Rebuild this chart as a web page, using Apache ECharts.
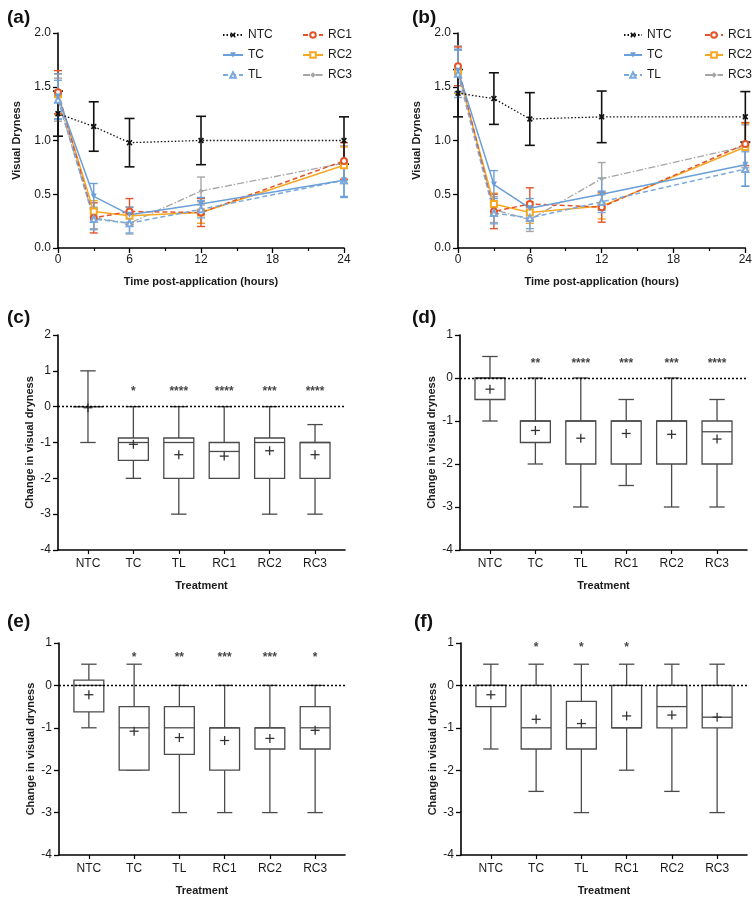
<!DOCTYPE html>
<html><head><meta charset="utf-8">
<script src="https://cdn.jsdelivr.net/npm/echarts@6/dist/echarts.min.js"></script>
<style>html,body{margin:0;padding:0;background:#fff}#c{width:755px;height:897px}</style>
</head><body><div id="c"></div>
<script>
// ---------- data ----------
const times = [0, 3, 6, 12, 24];
const treatments = ['NTC', 'TC', 'TL', 'RC1', 'RC2', 'RC3'];

// panel (a) means and error (±)
const aNTC = [1.25, 1.13, 0.98, 1.00, 1.00];
const aNTCerr = [0.21, 0.23, 0.225, 0.225, 0.22];
const aTC = [1.41, 0.48, 0.31, 0.41, 0.63];
const aTCerr = [0.21, 0.12, 0.07, 0.06, 0.16];
const aTL = [1.38, 0.27, 0.23, 0.36, 0.63];
const aTLerr = [0.18, 0.10, 0.09, 0.08, 0.15];
const aRC1 = [1.45, 0.28, 0.34, 0.33, 0.81];
const aRC1err = [0.20, 0.14, 0.12, 0.13, 0.17];
const aRC2 = [1.43, 0.34, 0.30, 0.33, 0.77];
const aRC2err = [0.19, 0.10, 0.08, 0.10, 0.17];
const aRC3 = [1.38, 0.28, 0.23, 0.53, 0.79];
const aRC3err = [0.20, 0.10, 0.10, 0.13, 0.16];

// panel (b)
const bNTC = [1.44, 1.39, 1.20, 1.22, 1.22];
const bNTCerr = [0.22, 0.24, 0.245, 0.24, 0.235];
const bTC = [1.65, 0.59, 0.37, 0.50, 0.775];
const bTCerr = [0.20, 0.13, 0.09, 0.15, 0.20];
const bTL = [1.62, 0.325, 0.28, 0.43, 0.735];
const bTLerr = [0.22, 0.10, 0.10, 0.10, 0.16];
const bRC1 = [1.69, 0.34, 0.41, 0.38, 0.967];
const bRC1err = [0.18, 0.16, 0.15, 0.14, 0.20];
const bRC2 = [1.64, 0.41, 0.33, 0.39, 0.94];
const bRC2err = [0.20, 0.10, 0.10, 0.12, 0.22];
const bRC3 = [1.66, 0.357, 0.264, 0.645, 0.946];
const bRC3err = [0.22, 0.12, 0.11, 0.15, 0.20];

// box plots: [min, q1, median, q3, max, mean] per treatment
const cBox = [
  [-1, 0, 0, 0, 1, -0.03],
  [-2, -1.5, -1, -0.875, 0, -1.05],
  [-3, -2, -1, -0.875, 0, -1.34],
  [-2, -2, -1.25, -1, 0, -1.38],
  [-3, -2, -1, -0.875, 0, -1.23],
  [-3, -2, -1, -1, -0.5, -1.34]
];
const cSig = ['', '*', '****', '****', '***', '****'];

const dBox = [
  [-1, -0.5, 0, 0, 0.5, -0.26],
  [-2, -1.5, -1, -1, 0, -1.22],
  [-3, -2, -1, -1, 0, -1.40],
  [-2.5, -2, -1, -1, -0.5, -1.29],
  [-3, -2, -1, -1, 0, -1.31],
  [-3, -2, -1.25, -1, -0.5, -1.42]
];
const dSig = ['', '**', '****', '***', '***', '****'];

const eBox = [
  [-1, -0.625, 0, 0.125, 0.5, -0.22],
  [-2, -2, -1, -0.5, 0.5, -1.08],
  [-3, -1.625, -1, -0.5, 0, -1.23],
  [-3, -2, -1, -1, 0, -1.30],
  [-3, -1.5, -1, -1, 0, -1.25],
  [-3, -1.5, -1, -0.5, 0, -1.06]
];
const eSig = ['', '*', '**', '***', '***', '*'];

const fBox = [
  [-1.5, -0.5, 0, 0, 0.5, -0.22],
  [-2.5, -1.5, -1, 0, 0.5, -0.80],
  [-3, -1.5, -1, -0.375, 0.5, -0.90],
  [-2, -1, -1, 0, 0.5, -0.72],
  [-2.5, -1, -0.5, 0, 0.5, -0.70],
  [-3, -1, -0.75, 0, 0.5, -0.75]
];
const fSig = ['', '*', '*', '*', '', ''];

// ---------- styling ----------
const FONT = '"Liberation Sans", Arial, Helvetica, sans-serif';
const TXT = '#1a1a1a';
const COL = { NTC: '#111111', TC: '#6a9fd8', TL: '#7aa9de', RC1: '#e2552b', RC2: '#f7a823', RC3: '#a6a6a6' };
const XPATH = 'path://M2,0L5,3L8,0L10,2L7,5L10,8L8,10L5,7L2,10L0,8L3,5L0,2Z';
const STY = {
  NTC: { line: { type: [1.5, 2], width: 1.3 }, symbol: XPATH, size: 6, rotate: 0 },
  TC: { line: { type: 'solid', width: 1.5 }, symbol: 'triangle', size: 6, rotate: 180 },
  TL: { line: { type: [5, 3], width: 1.5 }, symbol: 'emptyTriangle', size: 6, rotate: 0 },
  RC1: { line: { type: [5, 3], width: 1.5 }, symbol: 'emptyCircle', size: 6, rotate: 0 },
  RC2: { line: { type: 'solid', width: 1.5 }, symbol: 'emptyRect', size: 6, rotate: 0 },
  RC3: { line: { type: [7, 2, 1.5, 2], width: 1.3 }, symbol: 'diamond', size: 5, rotate: 0 }
};

const grids = [
  { left: 58, top: 33, width: 286, height: 215 },
  { left: 458, top: 33, width: 289, height: 215 },
  { left: 58, top: 335, width: 287, height: 215 },
  { left: 460, top: 335, width: 287, height: 215 },
  { left: 59, top: 643, width: 286, height: 214 },
  { left: 461, top: 643, width: 286, height: 214 }
];

const axisLine = { show: true, onZero: false, lineStyle: { color: '#000', width: 1.6 } };
const axisLabel = { color: TXT, fontSize: 12, fontFamily: FONT };
const nameStyle = { color: TXT, fontSize: 11, fontWeight: 'bold', fontFamily: FONT };

const xAxes = [], yAxes = [], series = [];

function addLinePanel(gi, data) {
  xAxes.push({
    gridIndex: gi, type: 'value', min: 0, max: 24, interval: 6,
    axisLine, axisTick: { show: true, length: 5, lineStyle: { color: '#000', width: 1.3 } },
    minorTick: { show: true, splitNumber: 2, length: 3, lineStyle: { color: '#000', width: 1.2 } },
    axisLabel: { ...axisLabel, margin: 6 }, splitLine: { show: false },
    name: 'Time post-application (hours)', nameLocation: 'middle', nameGap: 28, nameTextStyle: nameStyle
  });
  yAxes.push({
    gridIndex: gi, type: 'value', min: 0, max: 2, interval: 0.5,
    axisLine, axisTick: { show: true, length: 5, lineStyle: { color: '#000', width: 1.3 } },
    axisLabel: { ...axisLabel, margin: 7, formatter: v => v.toFixed(1) }, splitLine: { show: false },
    name: 'Visual Dryness', nameLocation: 'middle', nameGap: 36, nameTextStyle: nameStyle
  });
  treatments.slice().reverse().forEach(t => {
    const m = data[t][0], e = data[t][1], color = COL[t];
    series.push({
      type: 'custom', xAxisIndex: gi, yAxisIndex: gi, silent: true, z: 2,
      data: times.map((x, i) => [x, m[i] - e[i], m[i] + e[i]]),
      encode: { x: 0, y: [1, 2] },
      renderItem(params, api) {
        const x = api.value(0);
        const lo = api.coord([x, api.value(1)]);
        const hi = api.coord([x, api.value(2)]);
        const w = t === 'NTC' ? 5 : 4;
        const st = { stroke: color, lineWidth: t === 'NTC' ? 1.6 : 1.4 };
        return {
          type: 'group', children: [
            { type: 'line', shape: { x1: lo[0], y1: lo[1], x2: hi[0], y2: hi[1] }, style: st },
            { type: 'line', shape: { x1: lo[0] - w, y1: lo[1], x2: lo[0] + w, y2: lo[1] }, style: st },
            { type: 'line', shape: { x1: hi[0] - w, y1: hi[1], x2: hi[0] + w, y2: hi[1] }, style: st }
          ]
        };
      }
    });
  });
  treatments.slice().reverse().forEach(t => {
    const s = STY[t];
    series.push({
      type: 'line', name: t, xAxisIndex: gi, yAxisIndex: gi, z: 3,
      data: times.map((x, i) => [x, data[t][0][i]]),
      symbol: s.symbol, symbolSize: s.size, symbolRotate: s.rotate, showAllSymbol: true,
      lineStyle: { color: COL[t], type: s.line.type, width: s.line.width },
      itemStyle: { color: COL[t], borderWidth: 1.3 },
      emphasis: { disabled: true }
    });
  });
}

function addBoxPanel(gi, rows, sig, yMax, sigY) {
  xAxes.push({
    gridIndex: gi, type: 'value', min: -0.66, max: 5.66,
    axisLine,
    axisTick: { show: true, length: 4, customValues: [0, 1, 2, 3, 4, 5], lineStyle: { color: '#000', width: 1.2 } },
    axisLabel: { ...axisLabel, margin: 8, customValues: [0, 1, 2, 3, 4, 5], formatter: v => treatments[Math.round(v)] },
    splitLine: { show: false },
    name: 'Treatment', nameLocation: 'middle', nameGap: 30, nameTextStyle: nameStyle
  });
  yAxes.push({
    gridIndex: gi, type: 'value', min: -4, max: yMax, interval: 1,
    axisLine, axisTick: { show: true, length: 5, lineStyle: { color: '#000', width: 1.3 } },
    axisLabel: { ...axisLabel, margin: 7 }, splitLine: { show: false },
    name: 'Change in visual dryness', nameLocation: 'middle', nameGap: 23, nameTextStyle: nameStyle
  });
  series.push({
    type: 'custom', xAxisIndex: gi, yAxisIndex: gi, silent: true,
    data: rows.map((r, i) => [i, ...r]),
    encode: { x: 0, y: [1, 2, 3, 4, 5, 6] },
    renderItem(params, api) {
      const x = api.value(0);
      const P = v => api.coord([x, v]);
      const bw = api.size([0.66, 0])[0] / 2;
      const cw = api.size([0.34, 0])[0] / 2;
      const pw = 4.5;
      const mn = P(api.value(1)), q1 = P(api.value(2)), md = P(api.value(3)),
        q3 = P(api.value(4)), mx = P(api.value(5)), mean = P(api.value(6));
      const st = { stroke: '#4a4a4a', lineWidth: 1.3, fill: null };
      const cx = mn[0];
      const L = (x1, y1, x2, y2, s) => ({ type: 'line', shape: { x1, y1, x2, y2 }, style: s || st });
      const ch = [];
      if (mx[1] < q3[1] - 0.5) ch.push(L(cx, mx[1], cx, q3[1]));
      if (mn[1] > q1[1] + 0.5) ch.push(L(cx, q1[1], cx, mn[1]));
      ch.push(L(cx - cw, mx[1], cx + cw, mx[1]));
      ch.push(L(cx - cw, mn[1], cx + cw, mn[1]));
      ch.push({ type: 'rect', shape: { x: cx - bw, y: q3[1], width: 2 * bw, height: q1[1] - q3[1] }, style: { stroke: '#4a4a4a', lineWidth: 1.3, fill: '#fff' } });
      ch.push(L(cx - bw, md[1], cx + bw, md[1]));
      const ps = { stroke: '#333', lineWidth: 1.3 };
      ch.push(L(cx - pw, mean[1], cx + pw, mean[1], ps));
      ch.push(L(cx, mean[1] - pw, cx, mean[1] + pw, ps));
      return { type: 'group', children: ch };
    },
    markLine: {
      silent: true, symbol: 'none', label: { show: false }, z: 10,
      lineStyle: { color: '#000', type: [2, 2], width: 1.3 },
      data: [{ yAxis: 0 }]
    }
  });
  series.push({
    type: 'scatter', xAxisIndex: gi, yAxisIndex: gi, silent: true, symbolSize: 0,
    data: sig.map((s, i) => [i, sigY, s]),
    label: {
      show: true, position: 'inside', formatter: p => p.data[2],
      color: '#111', fontSize: 12, fontWeight: 'bold', fontFamily: FONT, offset: [0, 3]
    }
  });
}

addLinePanel(0, { NTC: [aNTC, aNTCerr], TC: [aTC, aTCerr], TL: [aTL, aTLerr], RC1: [aRC1, aRC1err], RC2: [aRC2, aRC2err], RC3: [aRC3, aRC3err] });
addLinePanel(1, { NTC: [bNTC, bNTCerr], TC: [bTC, bTCerr], TL: [bTL, bTLerr], RC1: [bRC1, bRC1err], RC2: [bRC2, bRC2err], RC3: [bRC3, bRC3err] });
addBoxPanel(2, cBox, cSig, 2, 0.5);
addBoxPanel(3, dBox, dSig, 1, 0.4);
addBoxPanel(4, eBox, eSig, 1, 0.73);
addBoxPanel(5, fBox, fSig, 1, 0.95);

const legendBase = {
  orient: 'vertical', itemHeight: 7, itemGap: 8, selectedMode: false,
  textStyle: { color: TXT, fontSize: 12, fontFamily: FONT }
};
const legends = [
  { ...legendBase, itemWidth: 20, left: 217, top: 24, data: ['NTC', 'TC', 'TL'] },
  { ...legendBase, itemWidth: 20, left: 297, top: 24, data: ['RC1', 'RC2', 'RC3'] },
  { ...legendBase, itemWidth: 18, left: 618, top: 24, data: ['NTC', 'TC', 'TL'] },
  { ...legendBase, itemWidth: 18, left: 699, top: 24, data: ['RC1', 'RC2', 'RC3'] }
];

const panelTitles = [
  { text: '(a)', left: 2, top: 3 }, { text: '(b)', left: 407, top: 3 },
  { text: '(c)', left: 2, top: 303 }, { text: '(d)', left: 407, top: 303 },
  { text: '(e)', left: 2, top: 607 }, { text: '(f)', left: 409, top: 607 }
].map(t => ({ ...t, textStyle: { fontSize: 19, fontWeight: 'bold', color: '#111', fontFamily: FONT } }));

const chart = echarts.init(document.getElementById('c'), null, { renderer: 'canvas' });
chart.setOption({
  animation: false,
  backgroundColor: '#fff',
  title: panelTitles,
  legend: legends,
  grid: grids,
  xAxis: xAxes,
  yAxis: yAxes,
  series
});
</script></body></html>
